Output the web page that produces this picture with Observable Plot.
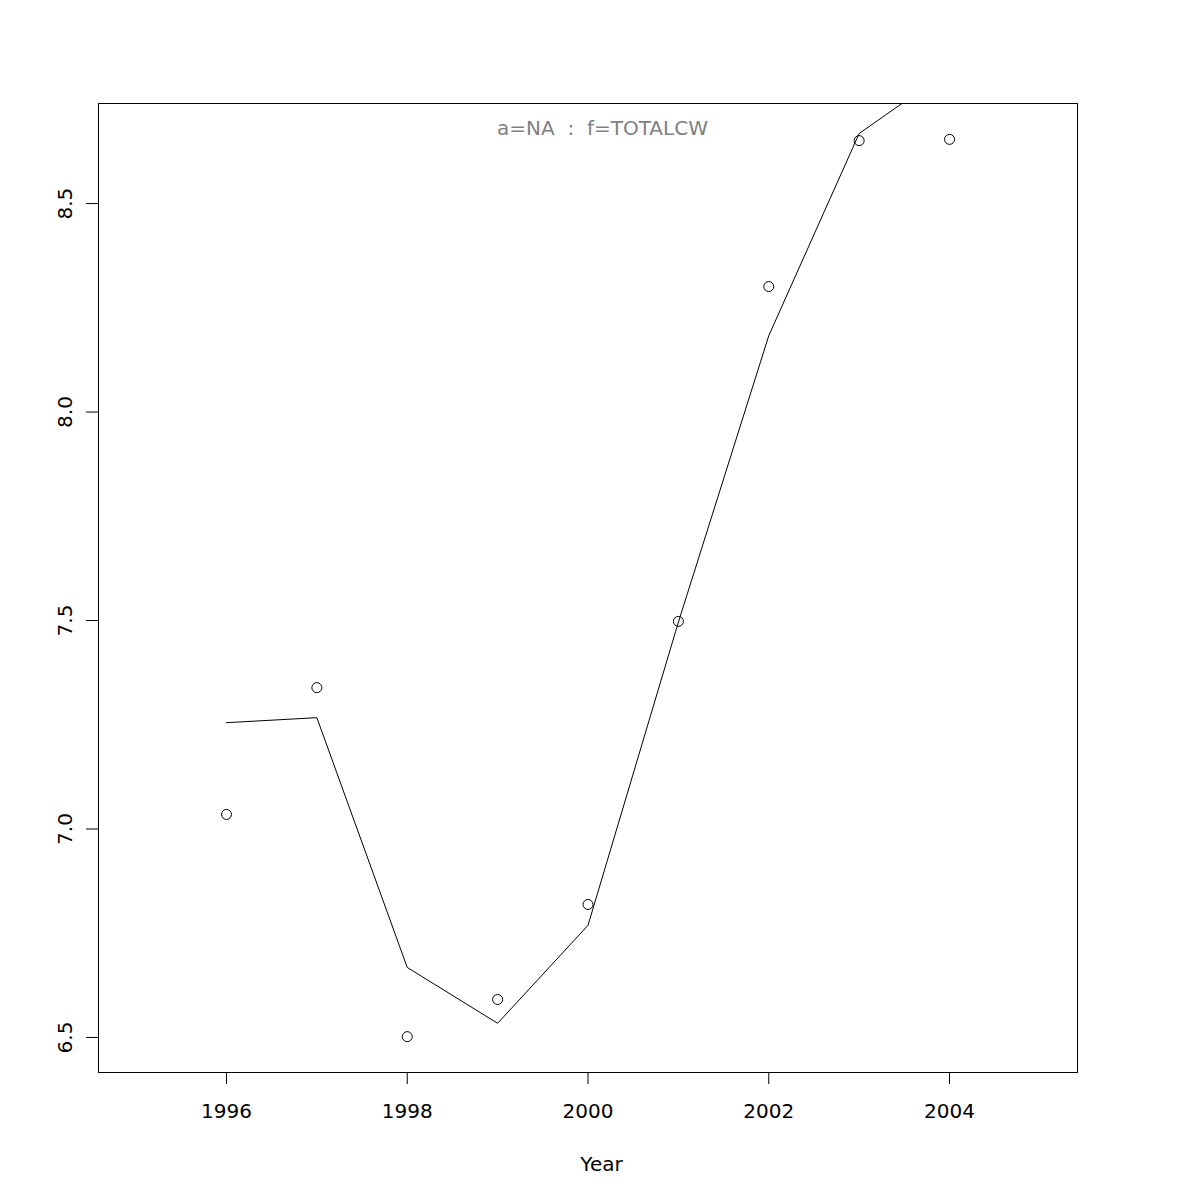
<!DOCTYPE html>
<html>
<head>
<meta charset="utf-8">
<script src="https://cdn.jsdelivr.net/npm/d3@7"></script>
<script src="https://cdn.jsdelivr.net/npm/@observablehq/plot@0.6"></script>
<style>
  html, body { margin: 0; padding: 0; background: #fff; }
  #chart { width: 1200px; height: 1200px; }
  svg { font-family: "DejaVu Sans", sans-serif; }
  svg text { white-space: pre; }
</style>
</head>
<body>
<div id="chart"></div>
<script>
const years = [1996, 1997, 1998, 1999, 2000, 2001, 2002, 2003, 2004];
const observed = [7.035, 7.339, 6.502, 6.591, 6.819, 7.498, 8.301, 8.651, 8.654];
const fitted = [7.255, 7.267, 6.668, 6.534, 6.769, 7.496, 8.183, 8.668, 8.82];
const xTicks = [1996, 1998, 2000, 2002, 2004];
const yTicks = [6.5, 7.0, 7.5, 8.0, 8.5];
const titleText = "a=NA  :  f=TOTALCW";
const xLabel = "Year";

const pts = years.map((y, i) => ({year: y, value: observed[i]}));
const fit = years.map((y, i) => ({year: y, value: fitted[i]}));

const chart = Plot.plot({
  width: 1200,
  height: 1200,
  marginLeft: 98,
  marginRight: 123,
  marginTop: 103,
  marginBottom: 128,
  style: {fontSize: "20px", fontFamily: "DejaVu Sans, sans-serif", color: "#000", background: "#fff"},
  x: {domain: [1994.584, 2005.416]},
  y: {domain: [6.416, 8.740]},
  marks: [
    Plot.frame({stroke: "#000", strokeWidth: 1}),
    Plot.axisX({ticks: xTicks, tickFormat: d => String(d), tickSize: 12, tickPadding: 19,
      label: null, fontSize: 20}),
    Plot.axisY({ticks: yTicks, tickFormat: d => d.toFixed(1), tickSize: 12, tickPadding: 15,
      tickRotate: -90, label: null, fontSize: 20}),
    Plot.line(fit, {x: "year", y: "value", stroke: "#000", strokeWidth: 1, clip: true}),
    Plot.dot(pts, {x: "year", y: "value", r: 5, stroke: "#000", strokeWidth: 1, fill: "none"}),
    Plot.text([titleText], {frameAnchor: "top", lineAnchor: "middle", dy: 24.6, dx: 14.5, fill: "#808080", fontSize: 20}),
    Plot.text([xLabel], {frameAnchor: "bottom", lineAnchor: "middle", dy: 91.6, dx: 13.5, fill: "#000", fontSize: 20})
  ]
});
document.getElementById("chart").appendChild(chart);
</script>
</body>
</html>
